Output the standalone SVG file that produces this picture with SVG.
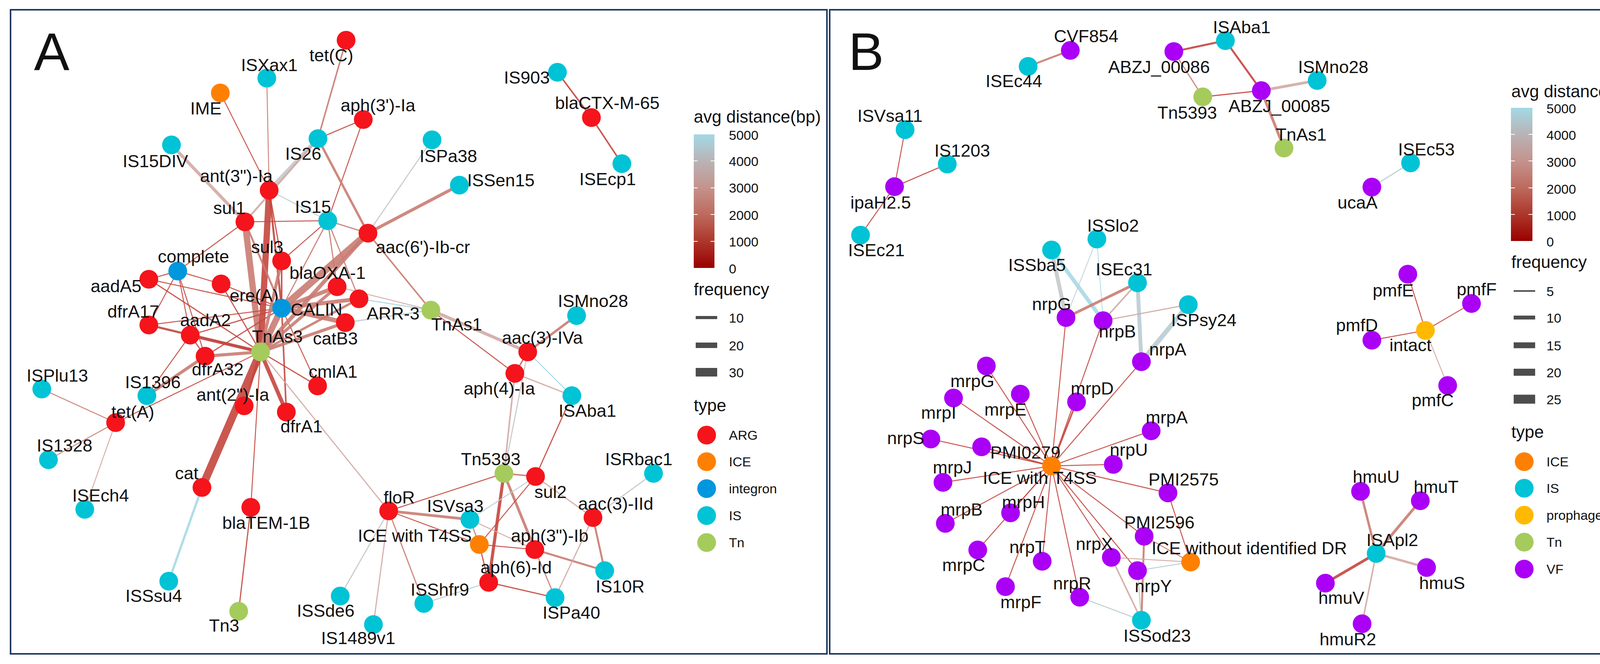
<svg xmlns="http://www.w3.org/2000/svg" width="4247" height="1700" viewBox="0 0 4247 1700">
<style>
text{font-family:"Liberation Sans",Arial,sans-serif;font-size:45px;fill:#111}
.big{font-size:136px}
.ttl{font-size:44px}
.lg{font-size:34px}
.frame{fill:none;stroke:#1f3a60;stroke-width:4}
.edges line{stroke-linecap:butt;stroke-opacity:0.9}
.e1{stroke:#a8201a}
.e2{stroke:#c4463e}
.e3{stroke:#c97c72}
.e4{stroke:#d2aaa5}
.e5{stroke:#c6c8ca}
.e5b{stroke:#b9ccd3}
.e6{stroke:#a9d9e4}
.arg{fill:#f5141b}
.ice{fill:#ff8000}
.int{fill:#0097df}
.is{fill:#00c3d6}
.tn{fill:#a5cb5c}
.vf{fill:#aa00f5}
.pro{fill:#ffb900}
.fq{stroke:#4d4d4d}
.tk{stroke:#ffffff;stroke-width:2}
</style>
<defs>
<linearGradient id="grad" x1="0" y1="0" x2="0" y2="1">
<stop offset="0" stop-color="#a3d9e6"/>
<stop offset="0.2" stop-color="#b9b3b5"/>
<stop offset="0.4" stop-color="#c4938c"/>
<stop offset="0.6" stop-color="#bd6a5e"/>
<stop offset="0.8" stop-color="#ad372b"/>
<stop offset="1" stop-color="#990000"/>
</linearGradient>
</defs>
<rect width="4247" height="1700" fill="#ffffff"/>
<rect class="frame" x="27" y="25" width="2090" height="1649"/>
<rect class="frame" x="2124" y="25" width="2095" height="1649"/>
<text class="big" x="87" y="179">A</text>
<text class="big" x="2172" y="179">B</text>

<g id="connectors" class="edges">
<line class="e2" stroke-width="2.5" x1="564" y1="238" x2="689" y2="487"/>
<line class="e3" stroke-width="2.5" x1="683" y1="200" x2="689" y2="487"/>
<line class="e4" stroke-width="8" x1="439" y1="371" x2="627" y2="568"/>
<line class="e5" stroke-width="10" x1="689" y1="487" x2="814" y2="355"/>
<line class="e4" stroke-width="5" x1="627" y1="568" x2="814" y2="355"/>
<line class="e5b" stroke-width="2.5" x1="689" y1="487" x2="839" y2="565"/>
<line class="e2" stroke-width="2.5" x1="627" y1="568" x2="455" y2="694"/>
<line class="e2" stroke-width="2.5" x1="627" y1="568" x2="839" y2="565"/>
<line class="e3" stroke-width="16" x1="627" y1="568" x2="667" y2="901"/>
<line class="e2" stroke-width="16" x1="689" y1="487" x2="667" y2="901"/>
<line class="e2" stroke-width="3" x1="689" y1="487" x2="721" y2="668"/>
<line class="e2" stroke-width="5" x1="689" y1="487" x2="721" y2="789"/>
<line class="e3" stroke-width="5" x1="627" y1="568" x2="721" y2="789"/>
<line class="e2" stroke-width="2.5" x1="455" y1="694" x2="381" y2="715"/>
<line class="e2" stroke-width="2.5" x1="455" y1="694" x2="566" y2="727"/>
<line class="e2" stroke-width="2.5" x1="455" y1="694" x2="381" y2="832"/>
<line class="e2" stroke-width="2.5" x1="455" y1="694" x2="487" y2="858"/>
<line class="e2" stroke-width="2.5" x1="455" y1="694" x2="525" y2="912"/>
<line class="e2" stroke-width="3" x1="381" y1="715" x2="667" y2="901"/>
<line class="e2" stroke-width="2.5" x1="381" y1="715" x2="721" y2="789"/>
<line class="e2" stroke-width="2.5" x1="566" y1="727" x2="721" y2="789"/>
<line class="e2" stroke-width="3" x1="566" y1="727" x2="667" y2="901"/>
<line class="e2" stroke-width="2.5" x1="381" y1="832" x2="721" y2="789"/>
<line class="e3" stroke-width="6" x1="381" y1="832" x2="667" y2="901"/>
<line class="e2" stroke-width="3" x1="381" y1="832" x2="487" y2="858"/>
<line class="e2" stroke-width="8" x1="487" y1="858" x2="667" y2="901"/>
<line class="e2" stroke-width="3" x1="487" y1="858" x2="525" y2="912"/>
<line class="e2" stroke-width="3" x1="487" y1="858" x2="721" y2="789"/>
<line class="e3" stroke-width="8" x1="525" y1="912" x2="667" y2="901"/>
<line class="e2" stroke-width="3" x1="525" y1="912" x2="721" y2="789"/>
<line class="e3" stroke-width="8" x1="376" y1="1013" x2="525" y2="912"/>
<line class="e2" stroke-width="2.5" x1="376" y1="1013" x2="487" y2="858"/>
<line class="e2" stroke-width="2.5" x1="296" y1="1082" x2="667" y2="901"/>
<line class="e3" stroke-width="2.5" x1="107" y1="996" x2="296" y2="1082"/>
<line class="e3" stroke-width="2.5" x1="124" y1="1177" x2="296" y2="1082"/>
<line class="e4" stroke-width="2.5" x1="217" y1="1304" x2="296" y2="1082"/>
<line class="e2" stroke-width="20" x1="517" y1="1248" x2="667" y2="901"/>
<line class="e6" stroke-width="6" x1="517" y1="1248" x2="432" y2="1488"/>
<line class="e2" stroke-width="2.5" x1="642" y1="1299" x2="667" y2="901"/>
<line class="e2" stroke-width="3" x1="642" y1="1299" x2="611" y2="1565"/>
<line class="e2" stroke-width="6" x1="625" y1="1039" x2="667" y2="901"/>
<line class="e2" stroke-width="10" x1="733" y1="1055" x2="667" y2="901"/>
<line class="e2" stroke-width="4" x1="733" y1="1055" x2="721" y2="789"/>
<line class="e2" stroke-width="3" x1="813" y1="988" x2="667" y2="901"/>
<line class="e2" stroke-width="2.5" x1="813" y1="988" x2="721" y2="789"/>
<line class="e4" stroke-width="3" x1="667" y1="901" x2="995" y2="1308"/>
<line class="e3" stroke-width="16" x1="667" y1="901" x2="721" y2="789"/>
<line class="e3" stroke-width="8" x1="721" y1="668" x2="667" y2="901"/>
<line class="e2" stroke-width="4" x1="721" y1="668" x2="721" y2="789"/>
<line class="e2" stroke-width="2.5" x1="721" y1="668" x2="839" y2="565"/>
<line class="e3" stroke-width="10" x1="721" y1="789" x2="863" y2="734"/>
<line class="e3" stroke-width="10" x1="721" y1="789" x2="919" y2="765"/>
<line class="e3" stroke-width="12" x1="721" y1="789" x2="884" y2="826"/>
<line class="e3" stroke-width="18" x1="721" y1="789" x2="942" y2="597"/>
<line class="e3" stroke-width="8" x1="667" y1="901" x2="863" y2="734"/>
<line class="e3" stroke-width="8" x1="667" y1="901" x2="884" y2="826"/>
<line class="e3" stroke-width="6" x1="667" y1="901" x2="919" y2="765"/>
<line class="e3" stroke-width="10" x1="667" y1="901" x2="942" y2="597"/>
<line class="e3" stroke-width="4" x1="886" y1="103" x2="814" y2="355"/>
<line class="e2" stroke-width="2.5" x1="814" y1="355" x2="930" y2="306"/>
<line class="e2" stroke-width="2.5" x1="930" y1="306" x2="839" y2="565"/>
<line class="e3" stroke-width="6" x1="814" y1="355" x2="942" y2="597"/>
<line class="e5" stroke-width="3" x1="1106" y1="358" x2="942" y2="597"/>
<line class="e3" stroke-width="8" x1="1176" y1="474" x2="942" y2="597"/>
<line class="e3" stroke-width="3" x1="839" y1="565" x2="942" y2="597"/>
<line class="e3" stroke-width="3" x1="839" y1="565" x2="863" y2="734"/>
<line class="e3" stroke-width="3" x1="839" y1="565" x2="919" y2="765"/>
<line class="e3" stroke-width="3" x1="839" y1="565" x2="721" y2="789"/>
<line class="e3" stroke-width="4" x1="942" y1="597" x2="1103" y2="794"/>
<line class="e6" stroke-width="3" x1="919" y1="765" x2="1103" y2="794"/>
<line class="e4" stroke-width="2.5" x1="863" y1="734" x2="1103" y2="794"/>
<line class="e5b" stroke-width="3" x1="884" y1="826" x2="1103" y2="794"/>
<line class="e4" stroke-width="8" x1="1103" y1="794" x2="1351" y2="901"/>
<line class="e2" stroke-width="2.5" x1="1103" y1="794" x2="1318" y2="956"/>
<line class="e3" stroke-width="6" x1="1476" y1="808" x2="1351" y2="901"/>
<line class="e2" stroke-width="3" x1="1351" y1="901" x2="1318" y2="956"/>
<line class="e6" stroke-width="2.5" x1="1351" y1="901" x2="1464" y2="1013"/>
<line class="e4" stroke-width="3" x1="1318" y1="956" x2="1464" y2="1013"/>
<line class="e5" stroke-width="3" x1="1351" y1="901" x2="1290" y2="1212"/>
<line class="e4" stroke-width="4" x1="1318" y1="956" x2="1290" y2="1212"/>
<line class="e2" stroke-width="3" x1="1464" y1="1013" x2="1371" y2="1220"/>
<line class="e3" stroke-width="4" x1="1290" y1="1212" x2="1371" y2="1220"/>
<line class="e2" stroke-width="2.5" x1="1290" y1="1212" x2="995" y2="1308"/>
<line class="e2" stroke-width="8" x1="1290" y1="1212" x2="1251" y2="1491"/>
<line class="e3" stroke-width="7" x1="1290" y1="1212" x2="1369" y2="1407"/>
<line class="e5b" stroke-width="2.5" x1="1371" y1="1220" x2="1203" y2="1330"/>
<line class="e2" stroke-width="2.5" x1="1371" y1="1220" x2="1227" y2="1394"/>
<line class="e4" stroke-width="3" x1="1371" y1="1220" x2="1518" y2="1325"/>
<line class="e3" stroke-width="7" x1="995" y1="1308" x2="1203" y2="1330"/>
<line class="e2" stroke-width="2.5" x1="995" y1="1308" x2="1227" y2="1394"/>
<line class="e4" stroke-width="2.5" x1="1203" y1="1330" x2="1369" y2="1407"/>
<line class="e2" stroke-width="2.5" x1="1227" y1="1394" x2="1369" y2="1407"/>
<line class="e2" stroke-width="3" x1="1227" y1="1394" x2="1251" y2="1491"/>
<line class="e3" stroke-width="3" x1="1203" y1="1330" x2="1227" y2="1394"/>
<line class="e2" stroke-width="3" x1="1251" y1="1491" x2="1421" y2="1530"/>
<line class="e3" stroke-width="5" x1="1369" y1="1407" x2="1548" y2="1461"/>
<line class="e3" stroke-width="3" x1="1369" y1="1407" x2="1421" y2="1530"/>
<line class="e3" stroke-width="5" x1="1518" y1="1325" x2="1548" y2="1461"/>
<line class="e4" stroke-width="3" x1="1518" y1="1325" x2="1421" y2="1530"/>
<line class="e5" stroke-width="3" x1="1518" y1="1325" x2="1673" y2="1212"/>
<line class="e5b" stroke-width="2.5" x1="1251" y1="1491" x2="1085" y2="1545"/>
<line class="e5" stroke-width="3" x1="995" y1="1308" x2="871" y2="1526"/>
<line class="e4" stroke-width="3" x1="995" y1="1308" x2="956" y2="1599"/>
<line class="e3" stroke-width="3" x1="995" y1="1308" x2="1085" y2="1545"/>
<line class="e2" stroke-width="4" x1="1427" y1="185" x2="1514" y2="301"/>
<line class="e2" stroke-width="4" x1="1514" y1="301" x2="1592" y2="419"/>

<line class="e3" stroke-width="5" x1="2632" y1="170" x2="2740" y2="129"/>
<line class="e2" stroke-width="2.5" x1="2290" y1="478" x2="2317" y2="332"/>
<line class="e2" stroke-width="2.5" x1="2290" y1="478" x2="2425" y2="420"/>
<line class="e2" stroke-width="2.5" x1="2290" y1="478" x2="2203" y2="602"/>
<line class="e2" stroke-width="5" x1="3005" y1="132" x2="3137" y2="104"/>
<line class="e2" stroke-width="5" x1="3137" y1="104" x2="3229" y2="232"/>
<line class="e3" stroke-width="3" x1="3005" y1="132" x2="3079" y2="248"/>
<line class="e2" stroke-width="3" x1="3079" y1="248" x2="3229" y2="232"/>
<line class="e4" stroke-width="7" x1="3229" y1="232" x2="3372" y2="206"/>
<line class="e3" stroke-width="7" x1="3229" y1="232" x2="3287" y2="379"/>
<line class="e5b" stroke-width="3" x1="3512" y1="479" x2="3611" y2="417"/>
<line class="e5" stroke-width="10" x1="2692" y1="640" x2="2729" y2="813"/>
<line class="e6" stroke-width="10" x1="2692" y1="640" x2="2824" y2="821"/>
<line class="e5b" stroke-width="2" x1="2808" y1="612" x2="2729" y2="813"/>
<line class="e6" stroke-width="2" x1="2808" y1="612" x2="2824" y2="821"/>
<line class="e3" stroke-width="7" x1="2729" y1="813" x2="2912" y2="724"/>
<line class="e4" stroke-width="4" x1="2912" y1="724" x2="2824" y2="821"/>
<line class="e5b" stroke-width="10" x1="2912" y1="724" x2="2922" y2="926"/>
<line class="e5b" stroke-width="12" x1="3042" y1="780" x2="2922" y2="926"/>
<line class="e4" stroke-width="3" x1="2824" y1="821" x2="3042" y2="780"/>
<line class="e2" stroke-width="2.5" x1="2692" y1="1193" x2="2729" y2="813"/>
<line class="e2" stroke-width="2.5" x1="2692" y1="1193" x2="2824" y2="821"/>
<line class="e2" stroke-width="2.5" x1="2692" y1="1193" x2="2922" y2="926"/>
<line class="e2" stroke-width="4" x1="2692" y1="1193" x2="2756" y2="1029"/>
<line class="e2" stroke-width="2.5" x1="2692" y1="1193" x2="2525" y2="937"/>
<line class="e2" stroke-width="2.5" x1="2692" y1="1193" x2="2441" y2="1019"/>
<line class="e2" stroke-width="2.5" x1="2692" y1="1193" x2="2612" y2="1009"/>
<line class="e2" stroke-width="2.5" x1="2692" y1="1193" x2="2383" y2="1124"/>
<line class="e2" stroke-width="3" x1="2692" y1="1193" x2="2513" y2="1144"/>
<line class="e2" stroke-width="2.5" x1="2692" y1="1193" x2="2414" y2="1235"/>
<line class="e2" stroke-width="2.5" x1="2692" y1="1193" x2="2420" y2="1340"/>
<line class="e2" stroke-width="2.5" x1="2692" y1="1193" x2="2587" y2="1313"/>
<line class="e2" stroke-width="2.5" x1="2692" y1="1193" x2="2503" y2="1408"/>
<line class="e2" stroke-width="2.5" x1="2692" y1="1193" x2="2574" y2="1502"/>
<line class="e2" stroke-width="2.5" x1="2692" y1="1193" x2="2668" y2="1437"/>
<line class="e2" stroke-width="2.5" x1="2692" y1="1193" x2="2764" y2="1529"/>
<line class="e2" stroke-width="2.5" x1="2692" y1="1193" x2="2845" y2="1427"/>
<line class="e2" stroke-width="2.5" x1="2692" y1="1193" x2="2912" y2="1461"/>
<line class="e2" stroke-width="2.5" x1="2692" y1="1193" x2="2929" y2="1373"/>
<line class="e2" stroke-width="2.5" x1="2692" y1="1193" x2="2990" y2="1262"/>
<line class="e2" stroke-width="2.5" x1="2692" y1="1193" x2="2850" y2="1189"/>
<line class="e2" stroke-width="2.5" x1="2692" y1="1193" x2="2947" y2="1103"/>
<line class="e2" stroke-width="2.5" x1="2990" y1="1262" x2="3048" y2="1439"/>
<line class="e2" stroke-width="2" x1="2929" y1="1373" x2="3048" y2="1439"/>
<line class="e3" stroke-width="5" x1="2929" y1="1373" x2="2922" y2="1588"/>
<line class="e5" stroke-width="3" x1="2912" y1="1461" x2="2922" y2="1588"/>
<line class="e4" stroke-width="4" x1="2845" y1="1427" x2="2922" y2="1588"/>
<line class="e5b" stroke-width="2.5" x1="2764" y1="1529" x2="2922" y2="1588"/>
<line class="e4" stroke-width="2.5" x1="2845" y1="1427" x2="3048" y2="1439"/>
<line class="e5b" stroke-width="2.5" x1="2912" y1="1461" x2="3048" y2="1439"/>
<line class="e2" stroke-width="2.5" x1="3649" y1="846" x2="3604" y2="702"/>
<line class="e2" stroke-width="2.5" x1="3649" y1="846" x2="3767" y2="777"/>
<line class="e2" stroke-width="2.5" x1="3649" y1="846" x2="3512" y2="871"/>
<line class="e4" stroke-width="2.5" x1="3649" y1="846" x2="3706" y2="987"/>
<line class="e3" stroke-width="6" x1="3523" y1="1417" x2="3483" y2="1258"/>
<line class="e3" stroke-width="7" x1="3523" y1="1417" x2="3636" y2="1282"/>
<line class="e4" stroke-width="6" x1="3523" y1="1417" x2="3652" y2="1453"/>
<line class="e2" stroke-width="7" x1="3523" y1="1417" x2="3393" y2="1493"/>
<line class="e4" stroke-width="4" x1="3523" y1="1417" x2="3487" y2="1597"/>
</g>

<g id="n-tetC"><circle class="arg" cx="886" cy="103" r="24"/><text x="792" y="157">tet(C)</text></g>
<g id="n-ISXax1"><circle class="is" cx="683" cy="200" r="24"/><text x="617" y="182">ISXax1</text></g>
<g id="n-IME"><circle class="ice" cx="564" cy="238" r="24"/><text x="487" y="293">IME</text></g>
<g id="n-aph3Ia"><circle class="arg" cx="930" cy="306" r="24"/><text x="872" y="285">aph(3')-Ia</text></g>
<g id="n-IS26"><circle class="is" cx="814" cy="355" r="24"/><text x="730" y="409">IS26</text></g>
<g id="n-ISPa38"><circle class="is" cx="1106" cy="358" r="24"/><text x="1074" y="415">ISPa38</text></g>
<g id="n-ISSen15"><circle class="is" cx="1176" cy="474" r="24"/><text x="1196" y="477">ISSen15</text></g>
<g id="n-IS15DIV"><circle class="is" cx="439" cy="371" r="24"/><text x="314" y="428">IS15DIV</text></g>
<g id="n-ant3Ia"><circle class="arg" cx="689" cy="487" r="24"/><text x="512" y="466">ant(3")-Ia</text></g>
<g id="n-sul1"><circle class="arg" cx="627" cy="568" r="24"/><text x="546" y="548">sul1</text></g>
<g id="n-IS15"><circle class="is" cx="839" cy="565" r="24"/><text x="755" y="545">IS15</text></g>
<g id="n-aac6Ibcr"><circle class="arg" cx="942" cy="597" r="24"/><text x="962" y="648">aac(6')-Ib-cr</text></g>
<g id="n-sul3"><circle class="arg" cx="721" cy="668" r="24"/><text x="643" y="648">sul3</text></g>
<g id="n-complete"><circle class="int" cx="455" cy="694" r="24"/><text x="404" y="672">complete</text></g>
<g id="n-aadA5"><circle class="arg" cx="381" cy="715" r="24"/><text x="232" y="748">aadA5</text></g>
<g id="n-ereA"><circle class="arg" cx="566" cy="727" r="24"/><text x="588" y="772">ere(A)</text></g>
<g id="n-blaOXA1"><circle class="arg" cx="863" cy="734" r="24"/><text x="741" y="714">blaOXA-1</text></g>
<g id="n-ARR3"><circle class="arg" cx="919" cy="765" r="24"/><text x="939" y="818">ARR-3</text></g>
<g id="n-CALIN"><circle class="int" cx="721" cy="789" r="24"/><text x="744" y="808">CALIN</text></g>
<g id="n-catB3"><circle class="arg" cx="884" cy="826" r="24"/><text x="801" y="882">catB3</text></g>
<g id="n-dfrA17"><circle class="arg" cx="381" cy="832" r="24"/><text x="275" y="813">dfrA17</text></g>
<g id="n-aadA2"><circle class="arg" cx="487" cy="858" r="24"/><text x="461" y="835">aadA2</text></g>
<g id="n-dfrA32"><circle class="arg" cx="525" cy="912" r="24"/><text x="491" y="961">dfrA32</text></g>
<g id="n-TnAs3"><circle class="tn" cx="667" cy="901" r="24"/><text x="645" y="877">TnAs3</text></g>
<g id="n-TnAs1A"><circle class="tn" cx="1103" cy="794" r="24"/><text x="1104" y="846">TnAs1</text></g>
<g id="n-ISMno28A"><circle class="is" cx="1476" cy="808" r="24"/><text x="1428" y="786">ISMno28</text></g>
<g id="n-aac3IVa"><circle class="arg" cx="1351" cy="901" r="24"/><text x="1285" y="880">aac(3)-IVa</text></g>
<g id="n-aph4Ia"><circle class="arg" cx="1318" cy="956" r="24"/><text x="1187" y="1010">aph(4)-Ia</text></g>
<g id="n-cmlA1"><circle class="arg" cx="813" cy="988" r="24"/><text x="790" y="967">cmlA1</text></g>
<g id="n-ISAba1A"><circle class="is" cx="1464" cy="1013" r="24"/><text x="1430" y="1067">ISAba1</text></g>
<g id="n-ISPlu13"><circle class="is" cx="107" cy="996" r="24"/><text x="68" y="977">ISPlu13</text></g>
<g id="n-IS1396"><circle class="is" cx="376" cy="1013" r="24"/><text x="320" y="994">IS1396</text></g>
<g id="n-ant2Ia"><circle class="arg" cx="625" cy="1039" r="24"/><text x="503" y="1026">ant(2")-Ia</text></g>
<g id="n-dfrA1"><circle class="arg" cx="733" cy="1055" r="24"/><text x="718" y="1107">dfrA1</text></g>
<g id="n-tetA"><circle class="arg" cx="296" cy="1082" r="24"/><text x="285" y="1070">tet(A)</text></g>
<g id="n-IS1328"><circle class="is" cx="124" cy="1177" r="24"/><text x="94" y="1156">IS1328</text></g>
<g id="n-Tn5393A"><circle class="tn" cx="1290" cy="1212" r="24"/><text x="1180" y="1191">Tn5393</text></g>
<g id="n-sul2"><circle class="arg" cx="1371" cy="1220" r="24"/><text x="1368" y="1275">sul2</text></g>
<g id="n-ISRbac1"><circle class="is" cx="1673" cy="1212" r="24"/><text x="1549" y="1191">ISRbac1</text></g>
<g id="n-cat"><circle class="arg" cx="517" cy="1248" r="24"/><text x="448" y="1227">cat</text></g>
<g id="n-ISEch4"><circle class="is" cx="217" cy="1304" r="24"/><text x="185" y="1284">ISEch4</text></g>
<g id="n-blaTEM1B"><circle class="arg" cx="642" cy="1299" r="24"/><text x="569" y="1354">blaTEM-1B</text></g>
<g id="n-floR"><circle class="arg" cx="995" cy="1308" r="24"/><text x="982" y="1289">floR</text></g>
<g id="n-ISVsa3"><circle class="is" cx="1203" cy="1330" r="24"/><text x="1093" y="1311">ISVsa3</text></g>
<g id="n-aac3IId"><circle class="arg" cx="1518" cy="1325" r="24"/><text x="1480" y="1305">aac(3)-IId</text></g>
<g id="n-ICEA"><circle class="ice" cx="1227" cy="1394" r="24"/><text x="916" y="1387">ICE with T4SS</text></g>
<g id="n-aph3Ib"><circle class="arg" cx="1369" cy="1407" r="24"/><text x="1308" y="1387">aph(3")-Ib</text></g>
<g id="n-IS10R"><circle class="is" cx="1548" cy="1461" r="24"/><text x="1525" y="1517">IS10R</text></g>
<g id="n-aph6Id"><circle class="arg" cx="1251" cy="1491" r="24"/><text x="1230" y="1468">aph(6)-Id</text></g>
<g id="n-ISSde6"><circle class="is" cx="871" cy="1526" r="24"/><text x="760" y="1579">ISSde6</text></g>
<g id="n-ISShfr9"><circle class="is" cx="1085" cy="1545" r="24"/><text x="1051" y="1525">ISShfr9</text></g>
<g id="n-ISPa40"><circle class="is" cx="1421" cy="1530" r="24"/><text x="1389" y="1584">ISPa40</text></g>
<g id="n-ISSsu4"><circle class="is" cx="432" cy="1488" r="24"/><text x="321" y="1541">ISSsu4</text></g>
<g id="n-Tn3"><circle class="tn" cx="611" cy="1565" r="24"/><text x="535" y="1617">Tn3</text></g>
<g id="n-IS1489v1"><circle class="is" cx="956" cy="1599" r="24"/><text x="822" y="1649">IS1489v1</text></g>
<g id="n-IS903"><circle class="is" cx="1427" cy="185" r="24"/><text x="1290" y="214">IS903</text></g>
<g id="n-blaCTXM65"><circle class="arg" cx="1514" cy="301" r="24"/><text x="1421" y="279">blaCTX-M-65</text></g>
<g id="n-ISEcp1"><circle class="is" cx="1592" cy="419" r="24"/><text x="1483" y="474">ISEcp1</text></g>

<g id="legend-A">
<text class="ttl" x="1776" y="314">avg distance(bp)</text>
<rect x="1776" y="344" width="53" height="342" fill="url(#grad)"/>
<line class="tk" x1="1776" y1="412" x2="1786" y2="412"/><line class="tk" x1="1819" y1="412" x2="1829" y2="412"/>
<line class="tk" x1="1776" y1="481" x2="1786" y2="481"/><line class="tk" x1="1819" y1="481" x2="1829" y2="481"/>
<line class="tk" x1="1776" y1="549" x2="1786" y2="549"/><line class="tk" x1="1819" y1="549" x2="1829" y2="549"/>
<line class="tk" x1="1776" y1="618" x2="1786" y2="618"/><line class="tk" x1="1819" y1="618" x2="1829" y2="618"/>
<text class="lg" x="1866" y="358">5000</text>
<text class="lg" x="1866" y="425">4000</text>
<text class="lg" x="1866" y="493">3000</text>
<text class="lg" x="1866" y="563">2000</text>
<text class="lg" x="1866" y="631">1000</text>
<text class="lg" x="1866" y="700">0</text>
<text class="ttl" x="1776" y="756">frequency</text>
<line class="fq" stroke-width="8" x1="1781" y1="813" x2="1836" y2="813"/><text class="lg" x="1866" y="826">10</text>
<line class="fq" stroke-width="14" x1="1781" y1="884" x2="1836" y2="884"/><text class="lg" x="1866" y="897">20</text>
<line class="fq" stroke-width="22" x1="1781" y1="953" x2="1836" y2="953"/><text class="lg" x="1866" y="966">30</text>
<text class="ttl" x="1776" y="1053">type</text>
<circle class="arg" cx="1809" cy="1114" r="24"/><text class="lg" x="1866" y="1126">ARG</text>
<circle class="ice" cx="1809" cy="1182" r="24"/><text class="lg" x="1866" y="1194">ICE</text>
<circle class="int" cx="1809" cy="1251" r="24"/><text class="lg" x="1866" y="1263">integron</text>
<circle class="is" cx="1809" cy="1320" r="24"/><text class="lg" x="1866" y="1332">IS</text>
<circle class="tn" cx="1809" cy="1389" r="24"/><text class="lg" x="1866" y="1401">Tn</text>
</g>

<g id="n-ISEc44"><circle class="is" cx="2632" cy="170" r="24"/><text x="2523" y="223">ISEc44</text></g>
<g id="n-CVF854"><circle class="vf" cx="2740" cy="129" r="24"/><text x="2698" y="108">CVF854</text></g>
<g id="n-ISVsa11"><circle class="is" cx="2317" cy="332" r="24"/><text x="2195" y="312">ISVsa11</text></g>
<g id="n-IS1203"><circle class="is" cx="2425" cy="420" r="24"/><text x="2392" y="401">IS1203</text></g>
<g id="n-ipaH25"><circle class="vf" cx="2290" cy="478" r="24"/><text x="2177" y="534">ipaH2.5</text></g>
<g id="n-ISEc21"><circle class="is" cx="2203" cy="602" r="24"/><text x="2171" y="656">ISEc21</text></g>
<g id="n-ABZJ00086"><circle class="vf" cx="3005" cy="132" r="24"/><text x="2837" y="187">ABZJ_00086</text></g>
<g id="n-ISAba1B"><circle class="is" cx="3137" cy="104" r="24"/><text x="3105" y="85">ISAba1</text></g>
<g id="n-ISMno28B"><circle class="is" cx="3372" cy="206" r="24"/><text x="3323" y="187">ISMno28</text></g>
<g id="n-ABZJ00085"><circle class="vf" cx="3229" cy="232" r="24"/><text x="3145" y="287">ABZJ_00085</text></g>
<g id="n-Tn5393B"><circle class="tn" cx="3079" cy="248" r="24"/><text x="2963" y="304">Tn5393</text></g>
<g id="n-TnAs1B"><circle class="tn" cx="3287" cy="379" r="24"/><text x="3266" y="360">TnAs1</text></g>
<g id="n-ucaA"><circle class="vf" cx="3512" cy="479" r="24"/><text x="3424" y="534">ucaA</text></g>
<g id="n-ISEc53"><circle class="is" cx="3611" cy="417" r="24"/><text x="3579" y="398">ISEc53</text></g>
<g id="n-ISSba5"><circle class="is" cx="2692" cy="640" r="24"/><text x="2581" y="694">ISSba5</text></g>
<g id="n-ISSlo2"><circle class="is" cx="2808" cy="612" r="24"/><text x="2783" y="593">ISSlo2</text></g>
<g id="n-ISEc31"><circle class="is" cx="2912" cy="724" r="24"/><text x="2805" y="705">ISEc31</text></g>
<g id="n-ISPsy24"><circle class="is" cx="3042" cy="780" r="24"/><text x="2998" y="835">ISPsy24</text></g>
<g id="n-nrpG"><circle class="vf" cx="2729" cy="813" r="24"/><text x="2642" y="794">nrpG</text></g>
<g id="n-nrpB"><circle class="vf" cx="2824" cy="821" r="24"/><text x="2813" y="864">nrpB</text></g>
<g id="n-nrpA"><circle class="vf" cx="2922" cy="926" r="24"/><text x="2942" y="910">nrpA</text></g>
<g id="n-pmfE"><circle class="vf" cx="3604" cy="702" r="24"/><text x="3514" y="759">pmfE</text></g>
<g id="n-pmfF"><circle class="vf" cx="3767" cy="777" r="24"/><text x="3729" y="756">pmfF</text></g>
<g id="n-pmfD"><circle class="vf" cx="3512" cy="871" r="24"/><text x="3420" y="848">pmfD</text></g>
<g id="n-intact"><circle class="pro" cx="3649" cy="846" r="24"/><text x="3557" y="899">intact</text></g>
<g id="n-pmfC"><circle class="vf" cx="3706" cy="987" r="24"/><text x="3614" y="1040">pmfC</text></g>
<g id="n-mrpG"><circle class="vf" cx="2525" cy="937" r="24"/><text x="2433" y="991">mrpG</text></g>
<g id="n-mrpI"><circle class="vf" cx="2441" cy="1019" r="24"/><text x="2358" y="1072">mrpI</text></g>
<g id="n-mrpE"><circle class="vf" cx="2612" cy="1009" r="24"/><text x="2520" y="1064">mrpE</text></g>
<g id="n-mrpD"><circle class="vf" cx="2756" cy="1029" r="24"/><text x="2741" y="1010">mrpD</text></g>
<g id="n-nrpS"><circle class="vf" cx="2383" cy="1124" r="24"/><text x="2271" y="1137">nrpS</text></g>
<g id="n-PMI0279"><circle class="vf" cx="2513" cy="1144" r="24"/><text x="2535" y="1174">PMI0279</text></g>
<g id="n-mrpJ"><circle class="vf" cx="2414" cy="1235" r="24"/><text x="2388" y="1212">mrpJ</text></g>
<g id="n-mrpB"><circle class="vf" cx="2420" cy="1340" r="24"/><text x="2408" y="1320">mrpB</text></g>
<g id="n-mrpH"><circle class="vf" cx="2587" cy="1313" r="24"/><text x="2565" y="1301">mrpH</text></g>
<g id="n-mrpC"><circle class="vf" cx="2503" cy="1408" r="24"/><text x="2412" y="1462">mrpC</text></g>
<g id="n-nrpT"><circle class="vf" cx="2668" cy="1437" r="24"/><text x="2584" y="1416">nrpT</text></g>
<g id="n-mrpF"><circle class="vf" cx="2574" cy="1502" r="24"/><text x="2561" y="1557">mrpF</text></g>
<g id="n-nrpR"><circle class="vf" cx="2764" cy="1529" r="24"/><text x="2696" y="1509">nrpR</text></g>
<g id="n-nrpX"><circle class="vf" cx="2845" cy="1427" r="24"/><text x="2754" y="1408">nrpX</text></g>
<g id="n-mrpA"><circle class="vf" cx="2947" cy="1103" r="24"/><text x="2933" y="1084">mrpA</text></g>
<g id="n-nrpU"><circle class="vf" cx="2850" cy="1189" r="24"/><text x="2841" y="1167">nrpU</text></g>
<g id="n-PMI2575"><circle class="vf" cx="2990" cy="1262" r="24"/><text x="2940" y="1243">PMI2575</text></g>
<g id="n-PMI2596"><circle class="vf" cx="2929" cy="1373" r="24"/><text x="2878" y="1353">PMI2596</text></g>
<g id="n-nrpY"><circle class="vf" cx="2912" cy="1461" r="24"/><text x="2905" y="1516">nrpY</text></g>
<g id="n-ICEB"><circle class="ice" cx="2692" cy="1193" r="24"/><text x="2516" y="1239">ICE with T4SS</text></g>
<g id="n-ICEwoDR"><circle class="ice" cx="3048" cy="1439" r="24"/><text x="2948" y="1419">ICE without identified DR</text></g>
<g id="n-ISSod23"><circle class="is" cx="2922" cy="1588" r="24"/><text x="2876" y="1643">ISSod23</text></g>
<g id="n-hmuU"><circle class="vf" cx="3483" cy="1258" r="24"/><text x="3463" y="1236">hmuU</text></g>
<g id="n-hmuT"><circle class="vf" cx="3636" cy="1282" r="24"/><text x="3619" y="1262">hmuT</text></g>
<g id="n-ISApl2"><circle class="is" cx="3523" cy="1417" r="24"/><text x="3498" y="1398">ISApl2</text></g>
<g id="n-hmuS"><circle class="vf" cx="3652" cy="1453" r="24"/><text x="3633" y="1508">hmuS</text></g>
<g id="n-hmuV"><circle class="vf" cx="3393" cy="1493" r="24"/><text x="3375" y="1546">hmuV</text></g>
<g id="n-hmuR2"><circle class="vf" cx="3487" cy="1597" r="24"/><text x="3378" y="1652">hmuR2</text></g>

<g id="legend-B">
<text class="ttl" x="3869" y="249">avg distance(bp)</text>
<rect x="3868" y="276" width="55" height="341" fill="url(#grad)"/>
<line class="tk" x1="3868" y1="344" x2="3878" y2="344"/><line class="tk" x1="3913" y1="344" x2="3923" y2="344"/>
<line class="tk" x1="3868" y1="412" x2="3878" y2="412"/><line class="tk" x1="3913" y1="412" x2="3923" y2="412"/>
<line class="tk" x1="3868" y1="481" x2="3878" y2="481"/><line class="tk" x1="3913" y1="481" x2="3923" y2="481"/>
<line class="tk" x1="3868" y1="549" x2="3878" y2="549"/><line class="tk" x1="3913" y1="549" x2="3923" y2="549"/>
<text class="lg" x="3959" y="290">5000</text>
<text class="lg" x="3959" y="358">4000</text>
<text class="lg" x="3959" y="427">3000</text>
<text class="lg" x="3959" y="496">2000</text>
<text class="lg" x="3959" y="564">1000</text>
<text class="lg" x="3959" y="631">0</text>
<text class="ttl" x="3869" y="686">frequency</text>
<line class="fq" stroke-width="4" x1="3875" y1="745" x2="3930" y2="745"/><text class="lg" x="3959" y="758">5</text>
<line class="fq" stroke-width="10" x1="3875" y1="813" x2="3930" y2="813"/><text class="lg" x="3959" y="826">10</text>
<line class="fq" stroke-width="15" x1="3875" y1="884" x2="3930" y2="884"/><text class="lg" x="3959" y="897">15</text>
<line class="fq" stroke-width="18" x1="3875" y1="953" x2="3930" y2="953"/><text class="lg" x="3959" y="966">20</text>
<line class="fq" stroke-width="23" x1="3875" y1="1022" x2="3930" y2="1022"/><text class="lg" x="3959" y="1035">25</text>
<text class="ttl" x="3869" y="1121">type</text>
<circle class="ice" cx="3902" cy="1182" r="24"/><text class="lg" x="3959" y="1194">ICE</text>
<circle class="is" cx="3902" cy="1250" r="24"/><text class="lg" x="3959" y="1262">IS</text>
<circle class="pro" cx="3902" cy="1319" r="24"/><text class="lg" x="3959" y="1331">prophage</text>
<circle class="tn" cx="3902" cy="1388" r="24"/><text class="lg" x="3959" y="1400">Tn</text>
<circle class="vf" cx="3902" cy="1457" r="24"/><text class="lg" x="3959" y="1469">VF</text>
</g>
</svg>
